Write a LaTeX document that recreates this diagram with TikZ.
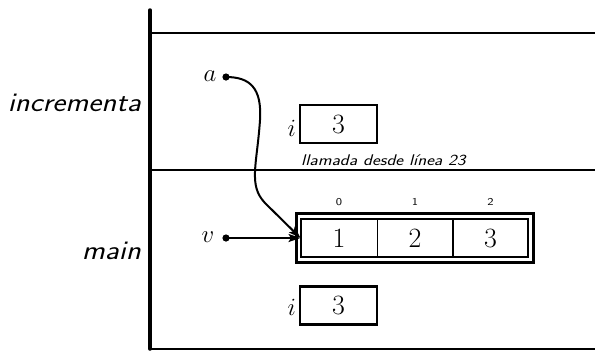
\documentclass[tikz,border=0pt]{standalone}
\usepackage{fontspec}
\usetikzlibrary{arrows.meta}
\begin{document}
\begin{tikzpicture}[x=1bp,y=-1bp,
  frame/.style={line width=2bp},
  valbox/.style={draw,line width=2.2bp,minimum width=77bp,minimum height=38bp,inner sep=0pt,font=\fontsize{28}{30}\selectfont},
  cellbox/.style={draw,line width=1bp,minimum width=76bp,minimum height=38bp,inner sep=0pt,font=\fontsize{28}{30}\selectfont},
  outerbox/.style={draw,line width=3bp,minimum width=237bp,minimum height=49bp,inner sep=0pt},
  innerbox/.style={draw,line width=1.4bp,minimum width=227bp,minimum height=38bp,inner sep=0pt},
  varlbl/.style={font=\fontsize{28}{30}\selectfont,inner sep=0pt},
  framelbl/.style={font=\fontsize{27}{30}\selectfont\sffamily\itshape,inner sep=0pt,anchor=base east},
  idx/.style={font=\fontsize{10.5}{12}\selectfont\sffamily,inner sep=0pt},
  note/.style={font=\fontsize{15.5}{18}\selectfont\sffamily\itshape,inner sep=0pt,anchor=base west},
  ptr/.style={line width=2bp,-{Stealth[length=12bp,width=8bp,inset=2.5bp]}}
]
\useasboundingbox (0,0) rectangle (595,350);
% frames
\draw[frame] (150,33) -- (595,33);
\draw[frame] (150,170) -- (595,170);
\draw[frame] (150,349) -- (595,349);
\draw[line width=3.5bp,line cap=round] (150,10) -- (150,349);
\node[framelbl] (fincr) at (141,111) {\scalebox{1.15}[1]{incrementa}};
\node[framelbl] (fmain) at (141,259) {\scalebox{1.15}[1]{main}};
\node[note] (llam) at (301,165) {\scalebox{1.2}[1]{llamada desde línea 23}};
% incrementa frame
\node[varlbl] (alab) at (210,76) {$a$};
\coordinate (adot) at (226,77);
\fill (adot) circle (3.6bp);
\node[valbox] (ibox1) at (338.5,124) {3};
\node[varlbl,anchor=east] (ilab1) at (296,128) {$i$};
% main frame
\node[outerbox] (arr) at (414.5,237.5) {};
\node[innerbox] (arrin) at (414.5,238) {};
\node[cellbox] (c0) at (339,238) {1};
\node[cellbox] (c1) at (415,238) {2};
\node[cellbox] (c2) at (490.5,238) {3};
\node[idx] (x0) at (339,202) {\scalebox{1.2}[1]{0}};
\node[idx] (x1) at (415,202) {\scalebox{1.2}[1]{1}};
\node[idx] (x2) at (490.5,202) {\scalebox{1.2}[1]{2}};
\node[varlbl] (vlab) at (208,237) {$v$};
\coordinate (vdot) at (226,238);
\fill (vdot) circle (3.6bp);
\node[valbox] (ibox2) at (338.5,305.5) {3};
\node[varlbl,anchor=east] (ilab2) at (296,307) {$i$};
% pointers
\draw[ptr] (vdot) -- (c0.west);
\draw[ptr] (adot) .. controls (250,77) and (262,88) .. (260,120)
  .. controls (257,165) and (248,185) .. (265,203) -- (c0.west);
\end{tikzpicture}
\end{document}
